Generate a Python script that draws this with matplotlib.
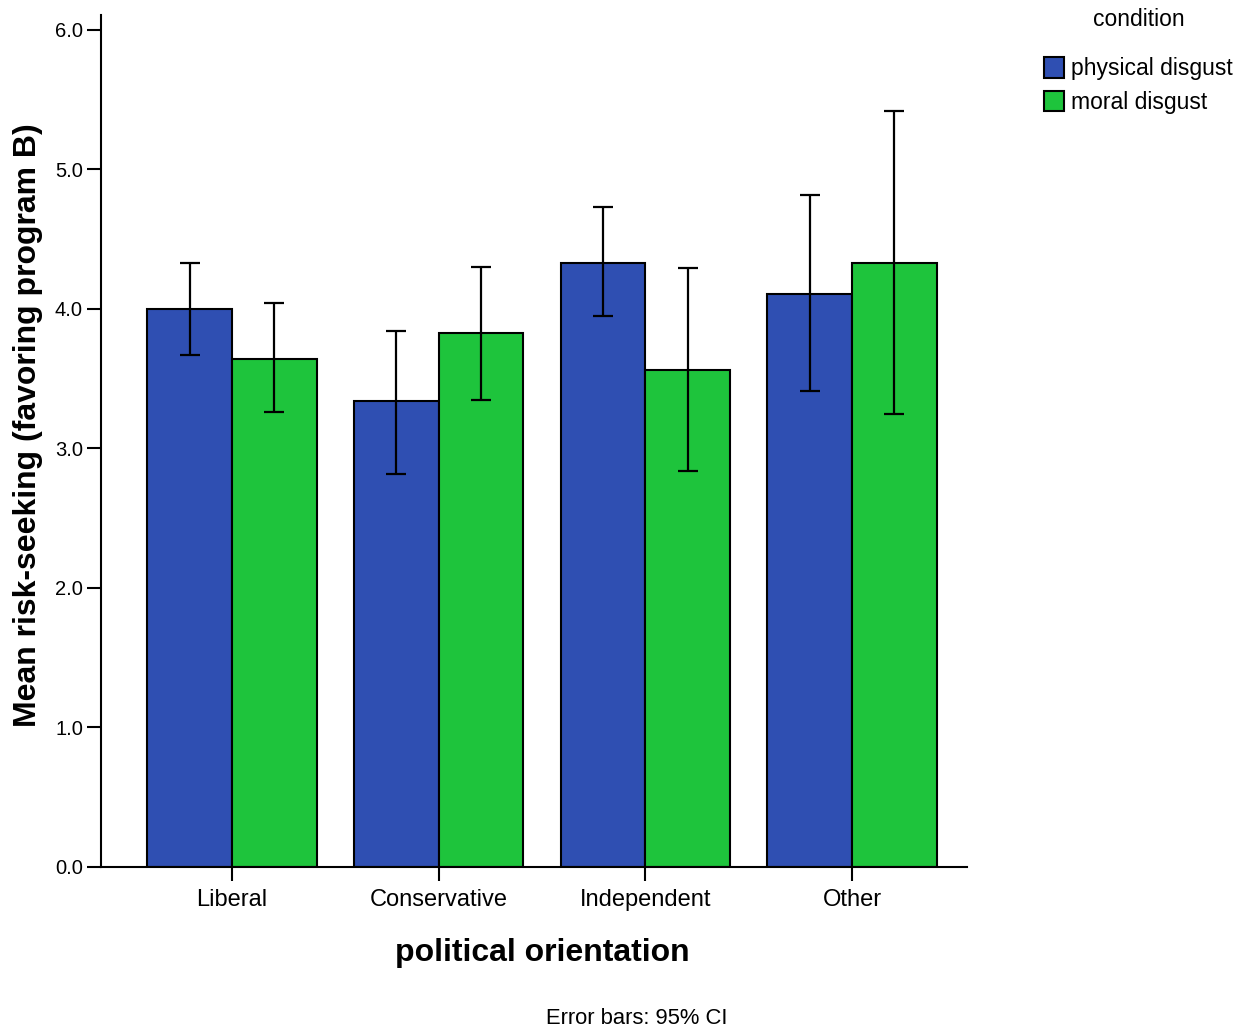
import matplotlib
matplotlib.use("Agg")
import matplotlib.pyplot as plt
import numpy as np

plt.rcParams["font.family"] = ["Liberation Sans", "DejaVu Sans"]

categories = ["Liberal", "Conservative", "Independent", "Other"]
series_names = ["physical disgust", "moral disgust"]
physical_mean = [4.00, 3.34, 4.33, 4.11]
physical_lo = [3.67, 2.82, 3.95, 3.41]
physical_hi = [4.33, 3.84, 4.73, 4.82]
moral_mean = [3.64, 3.83, 3.56, 4.33]
moral_lo = [3.26, 3.35, 2.84, 3.25]
moral_hi = [4.04, 4.30, 4.29, 5.42]
yticks = [0.0, 1.0, 2.0, 3.0, 4.0, 5.0, 6.0]

colors = ["#2f4fb2", "#1ec43c"]

fig = plt.figure(figsize=(12.6, 10.31), dpi=100)
W, H = 1260, 1031
ax = fig.add_axes([101 / W, 1 - 867 / H, (967 - 101) / W, (867 - 15) / H])

x = np.arange(len(categories))
bw = 0.41
means = [physical_mean, moral_mean]
los = [physical_lo, moral_lo]
his = [physical_hi, moral_hi]
offs = [-bw / 2, bw / 2]
handles = []
for i in range(2):
    m = np.array(means[i])
    lo = np.array(los[i])
    hi = np.array(his[i])
    b = ax.bar(x + offs[i], m, width=bw, color=colors[i], edgecolor="black",
               linewidth=1.5, label=series_names[i], zorder=2)
    handles.append(b)
    ax.errorbar(x + offs[i], m, yerr=[m - lo, hi - m], fmt="none", ecolor="black",
                elinewidth=1.6, capsize=7.5, capthick=1.6, zorder=3)

ax.set_xlim(-0.634, 3.556)
ax.set_ylim(0, 6.107)
ax.set_yticks(yticks)
ax.set_yticklabels([f"{v:.1f}" for v in yticks], fontsize=14.5)
ax.set_xticks(x)
ax.set_xticklabels(categories, fontsize=17)
ax.tick_params(axis="both", length=10, width=1.5, direction="out", pad=3)
ax.tick_params(axis="x", pad=6)
for s in ["top", "right"]:
    ax.spines[s].set_visible(False)
for s in ["left", "bottom"]:
    ax.spines[s].set_linewidth(1.5)

fig.text(28 / W, 1 - 425 / H, "Mean risk-seeking (favoring program B)", rotation=90,
         ha="center", va="center", fontsize=23, fontweight="bold")
fig.text(542 / W, 1 - 953 / H, "political orientation", ha="center", va="center",
         fontsize=23, fontweight="bold")
fig.text(637 / W, 1 - 1018 / H, "Error bars: 95% CI", ha="center", va="center",
         fontsize=15.8)

leg = fig.legend(handles=handles, labels=series_names, title="condition",
                 loc="upper left", bbox_to_anchor=(1030 / W, 1 + 6 / H),
                 frameon=False, fontsize=16.5, title_fontsize=16.5,
                 handlelength=0.9, handleheight=1.0, handletextpad=0.3,
                 labelspacing=0.45, borderaxespad=0.2)
leg._legend_box.sep = 19

fig.savefig("out.png", dpi=100, facecolor="white")
